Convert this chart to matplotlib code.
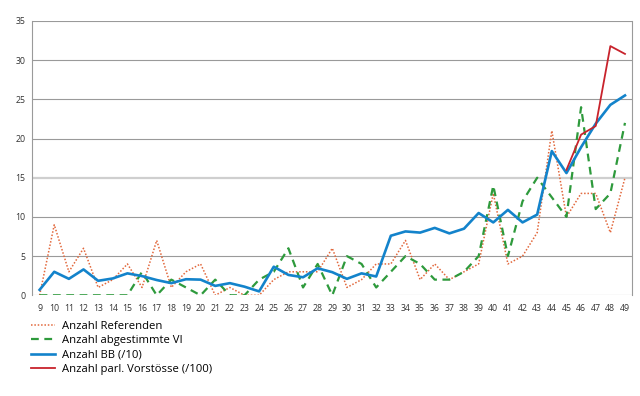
import matplotlib
matplotlib.use("Agg")
import matplotlib.pyplot as plt
from matplotlib.lines import Line2D

categories = list(range(9, 50))
referenden = [0, 9, 3, 6, 1, 2, 4, 1, 7, 1, 3, 4, 0, 1, 0, 0, 2, 3, 3, 3, 6, 1, 2, 4, 4, 7,
              2, 4, 2, 3, 4, 13, 4, 5, 8, 21, 10, 13, 13, 8, 15]
vi = [0, 0, 0, 0, 0, 0, 0, 3, 0, 2, 1, 0, 2, 0, 0, 2, 3, 6, 1, 4, 0, 5, 4, 1, 3, 5,
      4, 2, 2, 3, 5, 14, 5, 12, 15, 12.5, 10, 24, 11, 13, 22]
bb = [0.7, 3.0, 2.1, 3.3, 1.85, 2.15, 2.8, 2.45, 1.95, 1.55, 2.05, 2.0, 1.2, 1.55, 1.1, 0.5,
      3.65, 2.6, 2.3, 3.45, 2.95, 2.1, 2.8, 2.4, 7.6, 8.15, 8.0, 8.6, 7.9, 8.5, 10.5,
      9.3, 10.9, 9.3, 10.3, 18.4, 15.6, 18.9, 21.9, 24.3, 25.5]
vorst_cats = [45, 46, 47, 48, 49]
vorst = [16.0, 20.5, 21.6, 31.8, 30.8]
yticks = [0, 5, 10, 15, 20, 25, 30, 35]
labels = ["Anzahl Referenden", "Anzahl abgestimmte VI", "Anzahl BB (/10)",
          "Anzahl parl. Vorstösse (/100)"]

c_ref = "#E2683C"
c_vi = "#2E9A3C"
c_bb = "#1383CB"
c_vo = "#C8232C"

plt.rcParams['font.family'] = ['Open Sans', 'DejaVu Sans']
fig = plt.figure(figsize=(6.4, 3.96), dpi=100)
ax = fig.add_axes([32.3/640, (396-295.3)/396, (632.3-32.3)/640, (295.3-21)/396])

for y in yticks:
    if y == 15:
        ax.axhline(y, color="#cfcfcf", lw=1.6, zorder=0)
    else:
        ax.axhline(y, color="#9a9a9a", lw=0.8, zorder=0)

ax.plot(categories, referenden, color=c_ref, lw=1.1, ls=(0, (1, 1.2)), zorder=3)
ax.plot(categories, vi, color=c_vi, lw=1.6, ls=(0, (3.5, 2.5)), zorder=4)
ax.plot(categories, bb, color=c_bb, lw=1.9, zorder=5)
ax.plot(vorst_cats, vorst, color=c_vo, lw=1.3, zorder=6)

ax.set_xlim(8.5, 49.5)
ax.set_ylim(0, 35)
ax.set_xticks(categories)
ax.set_xticklabels([str(c) for c in categories])
ax.set_yticks(yticks)
ax.tick_params(length=0, labelsize=6.3, colors="#333333")
ax.tick_params(axis="x", pad=6)
ax.tick_params(axis="y", pad=5)
for s in ["top", "bottom"]:
    ax.spines[s].set_visible(False)
for s in ["left", "right"]:
    ax.spines[s].set_color("#9a9a9a")
    ax.spines[s].set_linewidth(0.8)

handles = [
    Line2D([], [], color=c_ref, lw=1.1, ls=(0, (1, 1.2))),
    Line2D([], [], color=c_vi, lw=1.6, ls=(0, (3.5, 2.5))),
    Line2D([], [], color=c_bb, lw=1.9),
    Line2D([], [], color=c_vo, lw=1.3),
]
fig.legend(handles, labels, loc="upper left", bbox_to_anchor=(31/640, 1 - 321/396),
           frameon=False, fontsize=8.1, handlelength=2.1, handletextpad=0.65,
           labelspacing=0.3, borderpad=0, borderaxespad=0)

fig.savefig("out.png", dpi=100)
